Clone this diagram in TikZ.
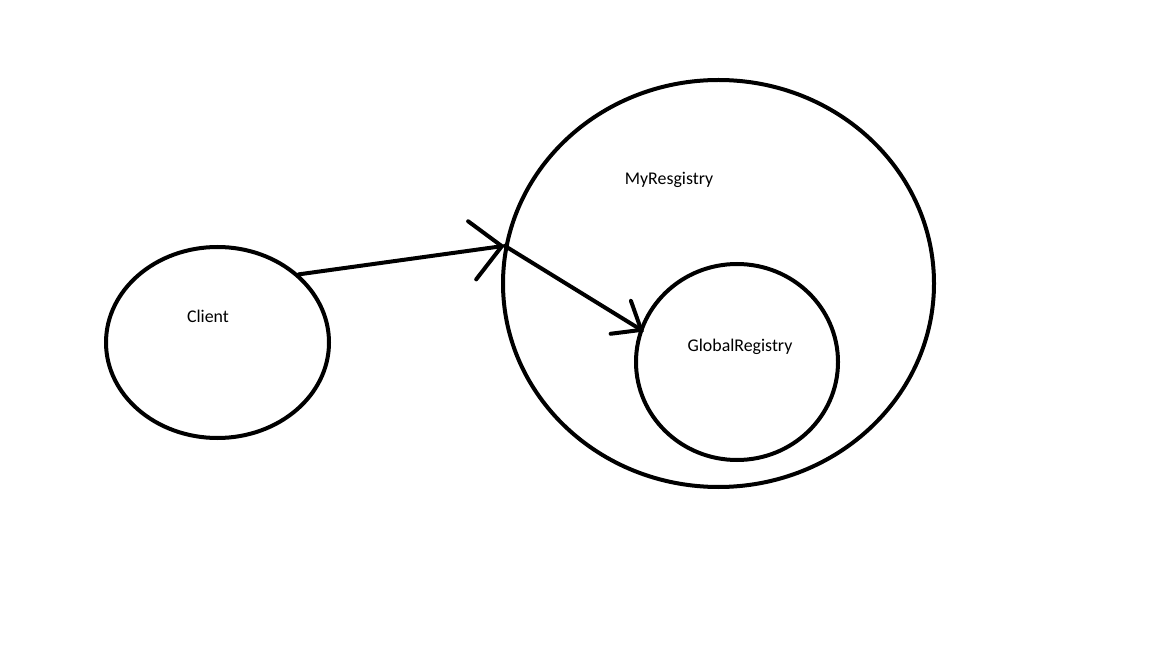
\documentclass[tikz,border=0pt]{standalone}
\usepackage{fontspec}
\setmainfont{Carlito}
\usetikzlibrary{shapes.geometric,arrows.meta}
\tikzset{
  blob/.style={draw=black, line width=3pt, ellipse, inner sep=0pt},
  lbl/.style={font=\fontsize{13.4pt}{16pt}\selectfont, text=black, inner sep=0pt},
  conn/.style={line width=3pt, line cap=round, line join=round}
}
\begin{document}
\begin{tikzpicture}[x=0.75pt,y=-0.75pt]
\useasboundingbox[fill=white] (0,0) rectangle (1152,648);
\node[blob, minimum width=167.25pt, minimum height=143.25pt] (client) at (217.5,342.5) {};
\node[blob, minimum width=323.25pt, minimum height=305.25pt] (myreg) at (718.5,283.5) {};
\node[blob, minimum width=151.5pt, minimum height=147pt] (gr) at (737,362) {};
\node[lbl] (clientlbl) at (208,316) {Client};
\node[lbl] (myreglbl) at (669,180) {MyResgistry};
\node[lbl] (grlbl) at (740,347) {GlobalRegistry};
\coordinate (j) at (myreg.170);
\draw[conn, -{Straight Barb[length=22.5pt, width=44pt, line cap=round]}] (client.40) -- (j);
\draw[conn, -{Straight Barb[length=18pt, width=29pt, line cap=round]}] (j) -- ([shift={(4,3)}]gr.161);
\end{tikzpicture}
\end{document}
